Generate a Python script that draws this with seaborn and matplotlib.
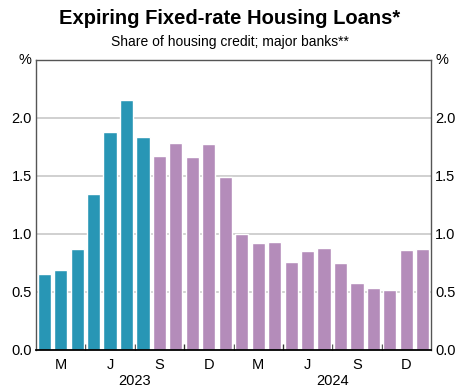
import matplotlib
matplotlib.use("Agg")
import matplotlib.pyplot as plt
import seaborn as sns
import pandas as pd

# Monthly expiring fixed-rate loans, share of housing credit (%)
months = pd.date_range("2023-01-01", "2024-12-01", freq="MS").strftime("%Y-%m").tolist()
share = [0.65, 0.69, 0.87, 1.34, 1.88, 2.15, 1.83,
         1.67, 1.78, 1.66, 1.77, 1.49, 1.00, 0.92, 0.93, 0.76,
         0.85, 0.88, 0.75, 0.58, 0.53, 0.52, 0.86, 0.87]
n_past = 7
status = ["past"] * n_past + ["future"] * (len(share) - n_past)

quarter_labels = ["M", "J", "S", "D", "M", "J", "S", "D"]
years = ["2023", "2024"]

teal = "#2896b5"
purple = "#b48cba"

df = pd.DataFrame({"month": months, "share": share, "status": status})

sns.set_theme(style="white")
plt.rcParams["font.family"] = ["Liberation Sans", "DejaVu Sans"]
plt.rcParams["text.color"] = "black"
plt.rcParams["xtick.color"] = "black"
plt.rcParams["ytick.color"] = "black"

fig = plt.figure(figsize=(4.6, 3.88), dpi=100)
ax = fig.add_axes([0.0783, 0.098, 0.8587, 0.7486])

sns.barplot(data=df, x="month", y="share", hue="status", dodge=False,
            palette={"past": teal, "future": purple}, width=0.8,
            saturation=1, legend=False, ax=ax, zorder=3)

n = len(share)
ax.set_xlim(-0.5, n - 0.5)
ax.set_ylim(0, 2.5)

# horizontal grid
for v in [0.5, 1.0, 1.5, 2.0]:
    ax.axhline(v, color="#c4c4c4", lw=1.1, zorder=1)

ax.set_yticks([0, 0.5, 1.0, 1.5, 2.0])
ax.set_yticklabels([f"{v:.1f}" for v in [0, 0.5, 1.0, 1.5, 2.0]])
ax.tick_params(axis="y", length=0, labelsize=10.5, pad=3,
               labelleft=True, labelright=True, labelcolor="black")

# quarter ticks at boundaries, labels in the middle of each quarter
ax.set_xticks([i * 3 + 2.5 for i in range(len(quarter_labels) - 1)])
ax.set_xticklabels([])
ax.tick_params(axis="x", direction="in", length=4, width=1, color="#333333", bottom=True)
for i, lab in enumerate(quarter_labels):
    ax.text(i * 3 + 1, -0.052, lab, ha="center", va="center", fontsize=10.5,
            color="black", transform=ax.get_xaxis_transform())
for j, yr in enumerate(years):
    ax.text(j * 12 + 5.5, -0.107, yr, ha="center", va="center", fontsize=10.5,
            color="black", transform=ax.get_xaxis_transform())

ax.set_xlabel("")
ax.set_ylabel("")

for side in ["left", "right", "top"]:
    ax.spines[side].set_visible(True)
    ax.spines[side].set_color("#555555")
    ax.spines[side].set_linewidth(1)
ax.spines["bottom"].set_color("black")
ax.spines["bottom"].set_linewidth(1.3)
ax.spines["bottom"].set_zorder(5)

ax.text(-0.012, 1.0, "%", ha="right", va="center", fontsize=10.5, color="black",
        transform=ax.transAxes)
ax.text(1.012, 1.0, "%", ha="left", va="center", fontsize=10.5, color="black",
        transform=ax.transAxes)

fig.text(0.5, 0.953, "Expiring Fixed-rate Housing Loans*", ha="center", va="center",
         fontsize=14.5, fontweight="bold", color="black")
fig.text(0.5, 0.893, "Share of housing credit; major banks**", ha="center", va="center",
         fontsize=10, color="black")

fig.savefig("out.png", dpi=100)
